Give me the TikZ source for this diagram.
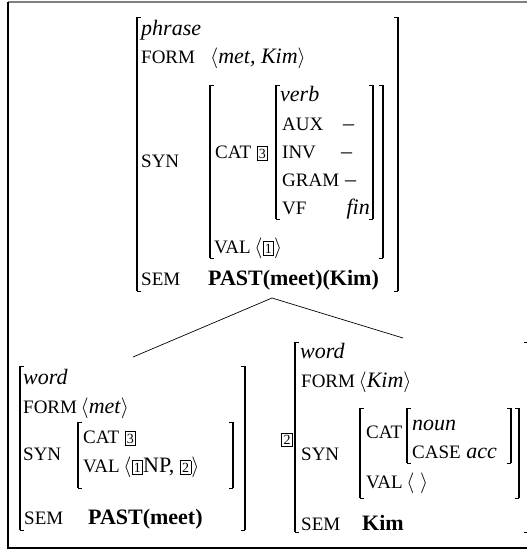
\documentclass[tikz,border=0pt]{standalone}
\usepackage{fontspec}
\setmainfont{Liberation Serif}
\newcommand{\feat}[1]{{\fontsize{19}{22}\selectfont #1}}
\newcommand{\tagbox}[1]{{\setlength{\fboxsep}{1.6pt}\setlength{\fboxrule}{0.7pt}\fbox{\fontsize{14}{15}\selectfont #1}}}
\newcommand{\lang}{$\langle$}
\newcommand{\rang}{$\rangle$}

\begin{document}
\begin{tikzpicture}
[x=1pt,y=-1pt,
  txtDecorate/.style={anchor=base west,inner sep=0pt,font={\fontsize{22}{26}\selectfont}},
  bracketDecorate/.style={line width=1.3pt},
  tickDecorate/.style={line width=0.6pt},
  lineDecorate/.style={-,line width=0.7pt},
  frameDecorate/.style={line width=1.1pt}]
\useasboundingbox (0,0) rectangle (527,550);
%% frame
\draw[frameDecorate,gray] (8,2) -- (540,2);
\draw[frameDecorate] (8,2) -- (8,548) -- (540,548);
%% brackets: left x / right x / top / bottom
\foreach \xl/\xr/\yt/\yb in {
  137/398/17/291, 210/383/85/258, 276/373/85/219,
  20/245/366/530, 78/233/422/488,
  295/528/342/532, 360/519/408/498, 407/511/408/463}
{
  \draw[bracketDecorate] (\xl,\yt) -- (\xl,\yb) (\xr,\yt) -- (\xr,\yb);
  \draw[tickDecorate] (\xl,\yt) -- ++(4,0) (\xl,\yb) -- ++(4,0)
    (\xr,\yt) -- ++(-4,0) (\xr,\yb) -- ++(-4,0);
}
%% phrase
\node[txtDecorate] (phrase) at (141,35) {\textit{phrase}};
\node[txtDecorate] (formP) at (141,63) {\feat{FORM}};
\node[txtDecorate] (formPval) at (210,63) {\lang\textit{met, Kim}\rang};
\node[txtDecorate] (synP) at (141,167) {\feat{SYN}};
\node[txtDecorate] (catP) at (215,158) {\feat{CAT} \tagbox{3}};
\node[txtDecorate] (verb) at (280,101) {\textit{verb}};
\node[txtDecorate] (aux) at (282,130) {\feat{AUX}};
\node[txtDecorate] (auxval) at (343,130) {–};
\node[txtDecorate] (inv) at (282,158) {\feat{INV}};
\node[txtDecorate] (invval) at (341,158) {–};
\node[txtDecorate] (gram) at (282,186) {\feat{GRAM}};
\node[txtDecorate] (gramval) at (345,186) {–};
\node[txtDecorate] (vf) at (282,214) {\feat{VF}};
\node[txtDecorate,anchor=base east] (vfval) at (370,214) {\textit{fin}};
\node[txtDecorate] (valP) at (214,253) {\feat{VAL}\,\lang\tagbox{1}\rang};
\node[txtDecorate] (semP) at (141,285) {\feat{SEM}};
\node[txtDecorate] (semPval) at (208,285) {\textbf{PAST(meet)(Kim)}};
%% word met
\node[txtDecorate] (wordM) at (23,384) {\textit{word}};
\node[txtDecorate] (formM) at (23,413) {\feat{FORM}\,\lang\textit{met}\rang};
\node[txtDecorate] (synM) at (23,460) {\feat{SYN}};
\node[txtDecorate] (catM) at (83,443) {\feat{CAT} \tagbox{3}};
\node[txtDecorate] (valM) at (83,472) {\feat{VAL}\,\lang\tagbox{1}NP, \tagbox{2}\rang};
\node[txtDecorate] (semM) at (24,524) {\feat{SEM}};
\node[txtDecorate] (semMval) at (88,524) {\textbf{PAST(meet)}};
%% word Kim
\node[txtDecorate,anchor=center] (tagK) at (287,440) {\tagbox{2}};
\node[txtDecorate] (wordK) at (300,358) {\textit{word}};
\node[txtDecorate] (formK) at (301,387) {\feat{FORM}\,\lang\textit{Kim}\rang};
\node[txtDecorate] (synK) at (301,460) {\feat{SYN}};
\node[txtDecorate] (catK) at (366,438) {\feat{CAT}};
\node[txtDecorate] (noun) at (412,430) {\textit{noun}};
\node[txtDecorate] (caseK) at (412,458) {\feat{CASE} \textit{acc}};
\node[txtDecorate] (valK) at (366,488) {\feat{VAL}\,\lang\ \rang};
\node[txtDecorate] (semK) at (301,530) {\feat{SEM}};
\node[txtDecorate] (semKval) at (362,530) {\textbf{Kim}};
%% tree lines
\coordinate (phraseApex) at (272,298);
\coordinate (metTop) at (133,357);
\coordinate (kimTop) at (403,338);
\draw[lineDecorate] (metTop) -- (phraseApex) -- (kimTop);
\end{tikzpicture}
\end{document}
